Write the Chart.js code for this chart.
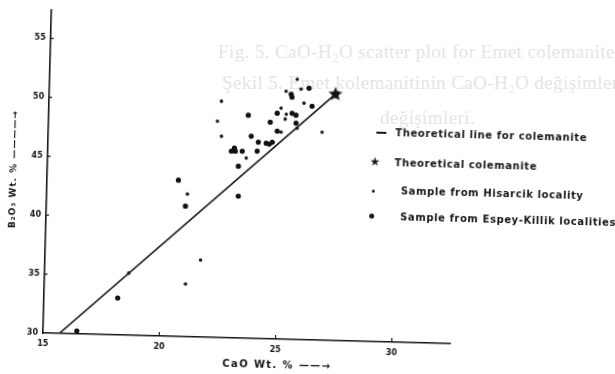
<!DOCTYPE html>
<html>
<head>
<meta charset="utf-8">
<script src="https://cdn.jsdelivr.net/npm/chart.js@4.4.0/dist/chart.umd.min.js"></script>
<style>
  html, body { margin: 0; padding: 0; background: #fff; overflow: hidden; }
  body { width: 615px; height: 374px; position: relative; }
  .bleed { position: absolute; font-family: "Liberation Serif", serif; font-size: 19px;
           letter-spacing: 0.4px; color: #e5e5e5; white-space: nowrap; }
  #wrap { position: absolute; left: 0; top: 0; width: 615px; height: 374px;
          transform: rotate(1.5deg); transform-origin: 43px 333px; filter: blur(0.3px); }
  #wrap canvas { position: absolute; left: 0; top: 0; }
  .lab { position: absolute; font-family: "DejaVu Sans", sans-serif; font-weight: bold;
         color: #151515; white-space: nowrap; }
  .leg { font-size: 10px; letter-spacing: 0.6px; line-height: 12px; }
  .sym { position: absolute; background: #151515; }
</style>
</head>
<body>
<div class="bleed" style="left:218px; top:41px;">Fig. 5. CaO-H₂O scatter plot for Emet colemanites</div>
<div class="bleed" style="left:222px; top:72px;">Şekil 5. Emet kolemanitinin CaO-H₂O değişimleri</div>
<div class="bleed" style="left:380px; top:107px;">değişimleri.</div>

<div id="wrap">
  <canvas id="chart" width="615" height="374"></canvas>

  <div class="lab" style="left:4px; top:164px; font-size:9px; letter-spacing:1px;
       transform: translate(0,-50%) rotate(-90deg); transform-origin: 6px 50%; width:0;">
    <span style="position:absolute; left:0; top:-6px; transform: translateX(-50%);">B₂O₃ Wt. % ————→</span>
  </div>
  <div class="lab" style="left:223px; top:353px; font-size:10px; letter-spacing:1.4px;">CaO Wt. % ——→</div>

  <div class="sym" style="left:371px; top:123px; width:10px; height:1.6px;"></div>
  <div class="lab leg" style="left:390px; top:118px;">Theoretical line for colemanite</div>
  <div class="lab" style="left:365px; top:146px; font-size:12px; font-weight:normal;">★</div>
  <div class="lab leg" style="left:390px; top:148px;">Theoretical colemanite</div>
  <div class="sym" style="left:368px; top:181px; width:3px; height:3px; border-radius:50%;"></div>
  <div class="lab leg" style="left:397px; top:176px;">Sample from Hisarcik locality</div>
  <div class="sym" style="left:366px; top:205px; width:5px; height:5px; border-radius:50%;"></div>
  <div class="lab leg" style="left:397px; top:202px;">Sample from Espey-Killik localities</div>
</div>

<script>
// axis ticks
const xTicks = [15, 20, 25, 30];
const yTicks = [30, 35, 40, 45, 50, 55];

// theoretical line for colemanite (CaO, B2O3)
const lineCaO = [15.7, 27.3];
const lineB2O3 = [30.0, 50.9];

// theoretical colemanite
const starCaO = [27.3];
const starB2O3 = [50.9];

// Hisarcik samples
const hisCaO = [25.64, 25.18, 25.82, 22.41, 25.96, 24.98, 25.21, 22.26, 25.17,
                25.01, 25.69, 26.77, 22.45, 23.54, 21.05, 21.69, 21.07, 18.62];
const hisB2O3 = [52.08, 51.04, 51.25, 50.05, 50.07, 49.59, 49.09, 48.35, 48.67,
                 47.56, 47.93, 47.65, 47.08, 45.28, 42.10, 36.53, 34.47, 35.27];

// Espey-Killik samples
const espCaO = [26.16, 25.40, 25.44, 26.31, 23.58, 24.82, 25.46, 25.63, 24.53,
                25.64, 24.84, 23.73, 24.04, 24.38, 24.51, 24.64, 23.02, 22.89,
                23.06, 23.36, 24.00, 23.21, 20.65, 20.98, 23.24, 18.17, 16.45];
const espB2O3 = [51.35, 50.80, 50.55, 49.83, 48.92, 49.16, 49.19, 49.03, 48.38,
                 48.36, 47.64, 47.15, 46.66, 46.59, 46.52, 46.69, 46.10, 45.84,
                 45.85, 45.86, 45.90, 44.58, 43.26, 41.08, 42.04, 33.13, 30.25];

const pts = (xs, ys) => xs.map((x, i) => ({ x, y: ys[i] }));

// filled star used as point style
const starImg = document.createElement('canvas');
starImg.width = 16; starImg.height = 16;
(() => {
  const c = starImg.getContext('2d');
  c.fillStyle = '#111';
  c.beginPath();
  for (let i = 0; i < 10; i++) {
    const r = i % 2 === 0 ? 7.5 : 3.2;
    const a = -Math.PI / 2 + i * Math.PI / 5;
    c.lineTo(8 + r * Math.cos(a), 8 + r * Math.sin(a));
  }
  c.closePath();
  c.fill();
})();

// small tick marks drawn inward from the axes
const innerTicks = {
  id: 'innerTicks',
  afterDraw(chart) {
    const { ctx, scales: { x, y } } = chart;
    ctx.save();
    ctx.strokeStyle = '#151515';
    ctx.lineWidth = 1.2;
    xTicks.slice(1).forEach(v => {
      const px = x.getPixelForValue(v);
      ctx.beginPath();
      ctx.moveTo(px, y.bottom);
      ctx.lineTo(px, y.bottom - 4);
      ctx.stroke();
    });
    yTicks.slice(1).forEach(v => {
      const py = y.getPixelForValue(v);
      ctx.beginPath();
      ctx.moveTo(x.left, py);
      ctx.lineTo(x.left + 3, py);
      ctx.stroke();
    });
    ctx.restore();
  }
};

const tickFont = { family: 'DejaVu Sans', size: 8, weight: 'bold' };

new Chart(document.getElementById('chart'), {
  type: 'scatter',
  data: {
    datasets: [
      {
        label: 'Theoretical colemanite',
        data: pts(starCaO, starB2O3),
        pointStyle: starImg,
        order: 0
      },
      {
        label: 'Sample from Hisarcik locality',
        data: pts(hisCaO, hisB2O3),
        pointRadius: 1.8,
        backgroundColor: '#1c1c1c',
        borderWidth: 0,
        order: 1
      },
      {
        label: 'Sample from Espey-Killik localities',
        data: pts(espCaO, espB2O3),
        pointRadius: 2.6,
        backgroundColor: '#111',
        borderWidth: 0,
        order: 2
      },
      {
        label: 'Theoretical line for colemanite',
        type: 'line',
        data: pts(lineCaO, lineB2O3),
        borderColor: '#151515',
        borderWidth: 1.6,
        pointRadius: [0, 5],
        pointStyle: 'triangle',
        pointRotation: 48,
        pointBackgroundColor: '#151515',
        pointBorderWidth: 0,
        order: 3
      }
    ]
  },
  options: {
    responsive: false,
    animation: false,
    layout: { padding: { top: 10, right: 165, left: 0, bottom: 0 } },
    plugins: {
      legend: { display: false },
      tooltip: { enabled: false }
    },
    scales: {
      x: {
        type: 'linear',
        min: 15,
        max: 32.5,
        afterFit: s => { s.height = 41; },
        afterBuildTicks: s => { s.ticks = xTicks.map(v => ({ value: v })); },
        grid: { drawOnChartArea: false, drawTicks: false },
        border: { color: '#151515', width: 1.6 },
        ticks: { font: tickFont, color: '#151515', padding: 6, maxRotation: 0 }
      },
      y: {
        type: 'linear',
        min: 30,
        max: 57.4,
        afterFit: s => { s.width = 43; },
        afterBuildTicks: s => { s.ticks = yTicks.map(v => ({ value: v })); },
        grid: { drawOnChartArea: false, drawTicks: false },
        border: { color: '#151515', width: 1.6 },
        ticks: { font: tickFont, color: '#151515', padding: 5 }
      }
    }
  },
  plugins: [innerTicks]
});
</script>
</body>
</html>
